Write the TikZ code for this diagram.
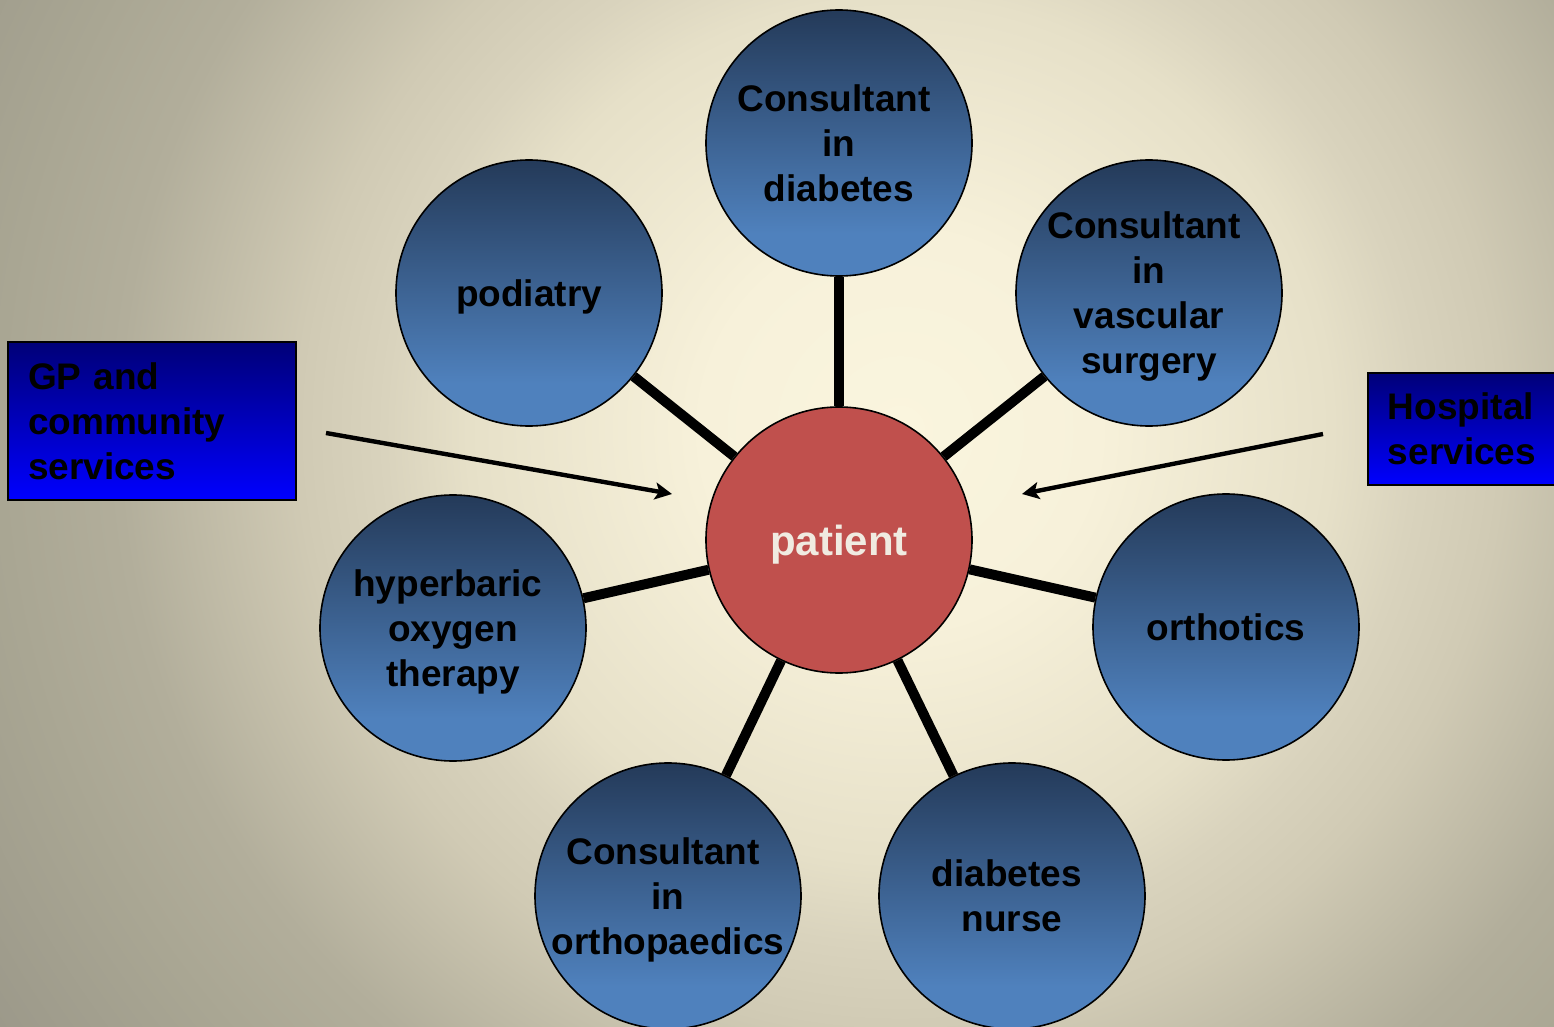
\documentclass[tikz,border=0pt]{standalone}
\usepackage{fontspec}
\setmainfont{Liberation Sans}
\usetikzlibrary{arrows.meta}

\definecolor{roleDark}{HTML}{243A59}
\definecolor{roleLight}{HTML}{4F81BD}
\definecolor{patRed}{HTML}{C0504D}
\definecolor{patText}{HTML}{F0EBE1}
\definecolor{boxNavy}{HTML}{000078}
\definecolor{boxBlue}{HTML}{0000FF}
\definecolor{bgA}{HTML}{FAF5DE}
\definecolor{bgB}{HTML}{F7F1DA}
\definecolor{bgC}{HTML}{E6E0C8}
\definecolor{bgD}{HTML}{D9D3BD}
\definecolor{bgE}{HTML}{D0CAB4}
\definecolor{bgF}{HTML}{B2AE9B}
\definecolor{bgG}{HTML}{A9A693}
\definecolor{bgH}{HTML}{9C998A}

\pgfdeclareverticalshading{roleshade}{100bp}{color(0bp)=(roleLight); color(33bp)=(roleLight); color(75bp)=(roleDark); color(100bp)=(roleDark)}
\pgfdeclareradialshading{bgshade}{\pgfpoint{0bp}{0bp}}{color(0bp)=(bgA); color(4.3bp)=(bgB); color(9.4bp)=(bgC); color(11.2bp)=(bgD); color(13.1bp)=(bgE); color(17bp)=(bgF); color(19.6bp)=(bgG); color(23.5bp)=(bgH); color(50bp)=(bgH)}

% room for the space PowerPoint keeps at a line end
\newcommand{\trail}{\hspace*{5.1pt}}

\begin{document}
\begin{tikzpicture}[x=0.5pt, y=-0.5pt,
	role/.style={circle, draw=black, line width=0.8pt, shade, shading=roleshade, minimum size=133pt, inner sep=0pt, align=center, text depth=0pt, font=\fontsize{18.5pt}{22.5pt}\selectfont\bfseries},
	spoke/.style={line width=5pt},
	feeder/.style={line width=2.2pt, -{Stealth[length=8.5pt, width=8.5pt, inset=2pt]}},
	service/.style={draw=black, line width=1pt, top color=boxNavy, bottom color=boxBlue, font=\fontsize{18.5pt}{22.5pt}\selectfont\bfseries}]
	\useasboundingbox (0,0) rectangle (1554,1027);
	\clip (0,0) rectangle (1554,1027);
	\shade [shading=bgshade] (900,430) circle (1150);
	
	% the team round the patient
	\node [circle, draw=black, line width=0.8pt, fill=patRed, minimum size=133pt, inner sep=0pt, text depth=0pt, text=patText, font=\fontsize{21pt}{25pt}\selectfont\bfseries] (pat) at (839,540) {patient};
	\node [role] (diab) at (839,143) {Consultant\trail\\in\trail\\diabetes};
	\node [role] (podi) at (529,293) {podiatry};
	\node [role] (vasc) at (1149,293) {Consultant\trail\\in\trail\\vascular\trail\\surgery};
	\node [role] (hyper) at (453,628) {hyperbaric\trail\\oxygen\trail\\therapy};
	\node [role] (orth) at (1226,627) {orthotics};
	\node [role] (ortho) at (668,896) {Consultant\trail\\in\trail\\orthopaedics};
	\node [role] (nurse) at (1012,896) {diabetes\trail\\nurse};
	\foreach \r in {diab, podi, vasc, hyper, orth, ortho, nurse}
		\draw [spoke] (pat) -- (\r);
	
	% services feeding in
	\node [service, minimum width=144pt, minimum height=78pt, text width=124pt, inner sep=10pt, align=left] (gp) at (152,421) {GP and\\community\\services};
	\node [service, minimum width=94pt, minimum height=56pt, align=left] (hosp) at (1462,429) {Hospital\\services};
	\coordinate (gpFrom) at (326,433);
	\coordinate (gpTo) at (672,494);
	\coordinate (hospFrom) at (1323,434);
	\coordinate (hospTo) at (1022,494);
	\draw [feeder] (gpFrom) -- (gpTo);
	\draw [feeder] (hospFrom) -- (hospTo);
	
\end{tikzpicture}
\end{document}
